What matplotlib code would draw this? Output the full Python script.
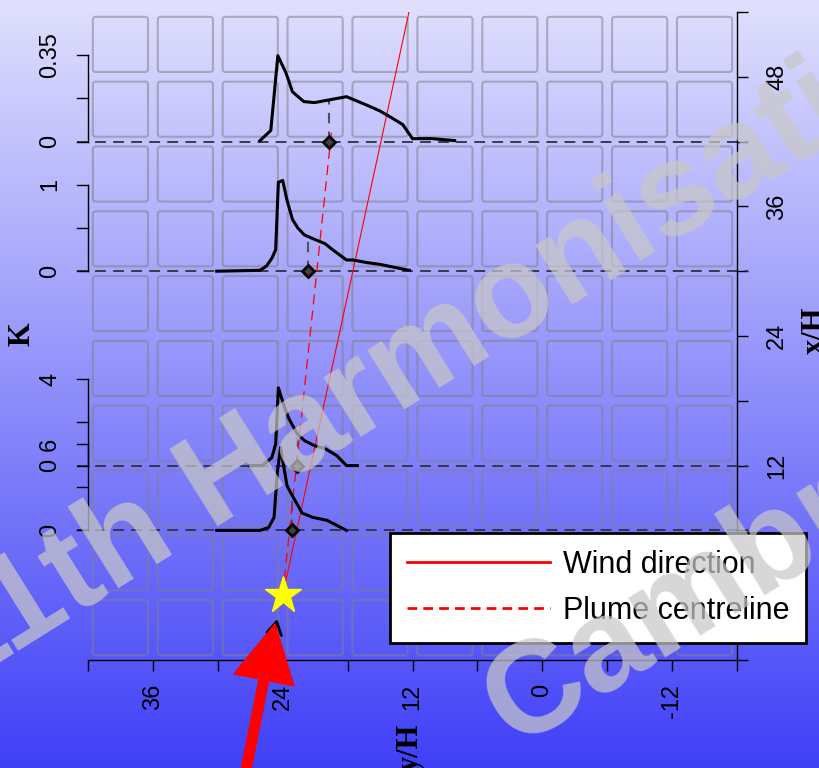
import numpy as np
import matplotlib
matplotlib.use('Agg')
import matplotlib.pyplot as plt
from matplotlib.patches import FancyBboxPatch, FancyArrowPatch
from matplotlib.lines import Line2D

plt.rcParams['font.family'] = ['Liberation Sans', 'DejaVu Sans']

# downwind distance of each measured profile (x/H) and top of its K scale
x_dist = [6, 12, 30, 42]
k_top = [6, 4, 1, 0.35]
k_top_labels = ['6', '4', '1', '0.35']

# lateral profiles: y/H and K
prof_y = [
    [30.1, 26.1, 25.3, 24.8, 24.5, 24.2, 23.6, 23.1, 22.2, 21.2, 19.9, 18.1],
    [27.05, 25.9, 25.0, 24.65, 24.4, 23.8, 23.45, 22.7, 22.0, 21.05, 20.1, 19.0, 18.1, 17.1],
    [30.1, 26.1, 25.5, 25.0, 24.65, 24.4, 24.0, 23.6, 23.1, 22.6, 22.0, 20.9, 20.1,
     19.4, 18.1, 17.5, 16.25, 15.05, 12.3],
    [26.1, 25.1, 24.45, 23.7, 23.1, 22.05, 21.05, 18.1, 16.35, 15.05, 13.95, 12.9,
     12.0, 10.15, 8.1],
]
prof_k = [
    [0, 0, 0.2, 0.9, 4.0, 5.75, 3.1, 2.4, 1.2, 0.9, 0.7, 0],
    [0, 0, 0.37, 1.0, 3.6, 2.65, 2.2, 1.5, 1.16, 0.92, 0.79, 0.46, 0, 0],
    [0, 0.01, 0.06, 0.15, 0.25, 1.03, 1.05, 0.82, 0.6, 0.5, 0.42, 0.36, 0.32,
     0.25, 0.13, 0.13, 0.1, 0.08, 0.01],
    [0.004, 0.045, 0.348, 0.279, 0.202, 0.162, 0.158, 0.182, 0.150, 0.125, 0.097,
     0.069, 0.012, 0.012, 0.004],
]
# centroid of each profile (y/H)
centroid_y = [23.1, 22.7, 21.7, 19.75]

# source position and directions (degrees off the x/H axis)
source_y = 24.0
source_x = 0.0
wind_angle = 12.2
plume_angle = 6.0

x_ticks = [42, 36, 30, 24, 18, 12, 6, 0, -6, -12, -18]
x_labels = ['', '36', '', '24', '', '12', '', '0', '', '-12', '']
y_ticks = [-6, 0, 6, 12, 18, 24, 30, 36, 42, 48, 54]
y_labels = ['', '', '', '12', '', '24', '', '36', '', '48', '']

W, H = 819, 768
fig = plt.figure(figsize=(W / 100, H / 100), dpi=100)

# slide background gradient
bg = fig.add_axes([0, 0, 1, 1], zorder=-1)
top = np.array([0.878, 0.878, 0.996])
bot = np.array([0.25, 0.25, 0.972])
t = np.linspace(0, 1, 256)[:, None]
grad = top[None, None, :] * (1 - t[:, :, None]) + bot[None, None, :] * t[:, :, None]
bg.imshow(np.repeat(grad, 2, axis=1), aspect='auto', extent=[0, 1, 0, 1])
bg.axis('off')

ax = fig.add_axes([88 / W, 108 / H, 649 / W, 648 / H])
ax.set_facecolor('none')
ax.set_xlim(42, -18)
ax.set_ylim(-6, 54)

# template squares behind the plot
for i in range(10):
    for j in range(10):
        sq = FancyBboxPatch((-18 + 6 * i + 0.45, -6 + 6 * j + 0.45), 5.1, 5.1,
                            boxstyle='round,pad=0,rounding_size=0.25',
                            fc='none', ec=(0.5, 0.5, 0.55), alpha=0.55, lw=1.5, zorder=0)
        ax.add_patch(sq)

# profiles
for xd, kt, lab, py, pk, cy in zip(x_dist, k_top, k_top_labels, prof_y, prof_k, centroid_y):
    scale = 8.0 / kt
    ax.plot([43.0, -19.0], [xd, xd], color='#303040', lw=1.3, ls=(0, (6, 4)),
            clip_on=False, zorder=2)
    ax.plot(py, xd + np.array(pk) * scale, color='black', lw=2.2, zorder=4,
            solid_joinstyle='round')
    # K axis for this profile
    ax.plot([42, 42], [xd, xd + kt * scale], color='black', lw=1, clip_on=False)
    for tk in [0, kt / 2, kt]:
        ax.plot([42, 43.0], [xd + tk * scale] * 2, color='black', lw=1, clip_on=False)
    ax.text(45.5, xd, '0', rotation=90, ha='center', va='center', fontsize=17)
    ax.text(45.5, xd + kt * scale, lab, rotation=90, ha='center', va='center', fontsize=17)
    # centroid marker
    kc = np.interp(cy, py[::-1], pk[::-1])
    ax.plot([cy, cy], [xd, xd + kc * scale], color='#505060', lw=1.5,
            ls=(0, (5, 4)), zorder=3)
    ax.plot(cy, xd, marker='D', ms=6.5, mfc='#404048', mec='black', mew=2, zorder=5)

# wind direction and plume centreline
xw = np.array([source_x, 54.0])
ax.plot(source_y - np.tan(np.radians(wind_angle)) * xw, xw, color='red', lw=0.8, zorder=3)
xp = np.array([source_x, 43.0])
ax.plot(source_y - np.tan(np.radians(plume_angle)) * xp, xp, color='red', lw=0.9,
        ls=(0, (8, 5)), zorder=3)
ax.plot(source_y, source_x, marker='*', ms=28, color='yellow', mec='yellow', zorder=6)
ax.annotate('', xy=(source_y + 0.5, source_x - 2.2), xytext=(source_y + 1.5, source_x - 7),
            arrowprops=dict(arrowstyle='->,head_length=0.6,head_width=0.35', color='black',
                            lw=2, mutation_scale=15, shrinkA=0, shrinkB=0),
            annotation_clip=False, zorder=5)

ax.set_xticks(x_ticks)
ax.set_xticklabels(x_labels, rotation=90, fontsize=17)
ax.yaxis.tick_right()
ax.set_yticks(y_ticks)
ax.set_yticklabels(y_labels, rotation=90, fontsize=17, va='center')
ax.tick_params(axis='x', direction='out', length=8, width=1, pad=9)
ax.tick_params(axis='y', direction='out', length=8, width=1, pad=13)
for s in ['top', 'left']:
    ax.spines[s].set_visible(False)
for s in ['bottom', 'right']:
    ax.spines[s].set_linewidth(1)

h1 = Line2D([], [], color='red', lw=2)
h2 = Line2D([], [], color='red', lw=2, ls=(0, (3.5, 2.2)))
leg = ax.legend([h1, h2], ['Wind direction', 'Plume centreline'], loc='upper left',
                bbox_to_anchor=(390 / W, 1 - 533 / H), bbox_transform=fig.transFigure,
                borderaxespad=0, fontsize=22, handlelength=4.7, handletextpad=0.4,
                borderpad=0.55, labelspacing=0.52, fancybox=False, framealpha=1,
                edgecolor='black')
leg.get_frame().set_linewidth(2)
leg.set_zorder(10)

# big wind arrow from the slide
arrow = FancyArrowPatch((242 / W, 1 - 790 / H), (275 / W, 1 - 624 / H),
                        transform=fig.transFigure, mutation_scale=1,
                        arrowstyle='simple,head_length=41,head_width=44,tail_width=7',
                        color='red', shrinkA=0, shrinkB=0, zorder=6)
fig.add_artist(arrow)

serif = dict(family='Liberation Serif', weight='bold', fontsize=22)
fig.text(22 / W, 1 - 334 / H, 'K', rotation=90, ha='center', va='center', **serif)
fig.text(815 / W, 1 - 330 / H, 'x/H', rotation=90, ha='center', va='center', **serif)
fig.text(410 / W, 1 - 747 / H, 'y/H', rotation=90, ha='center', va='center', **serif)

# conference watermark
wm = dict(color='#c8c8c8', alpha=0.72, fontsize=95, weight='bold', rotation=32,
          rotation_mode='anchor', ha='left', va='baseline', zorder=20)
fig.text(-45 / W, 1 - 690 / H, '11th Harmonisation', **wm)
fig.text(515 / W, 1 - 748 / H, 'Cambridge', **wm)

fig.savefig('out.png', dpi=100)
